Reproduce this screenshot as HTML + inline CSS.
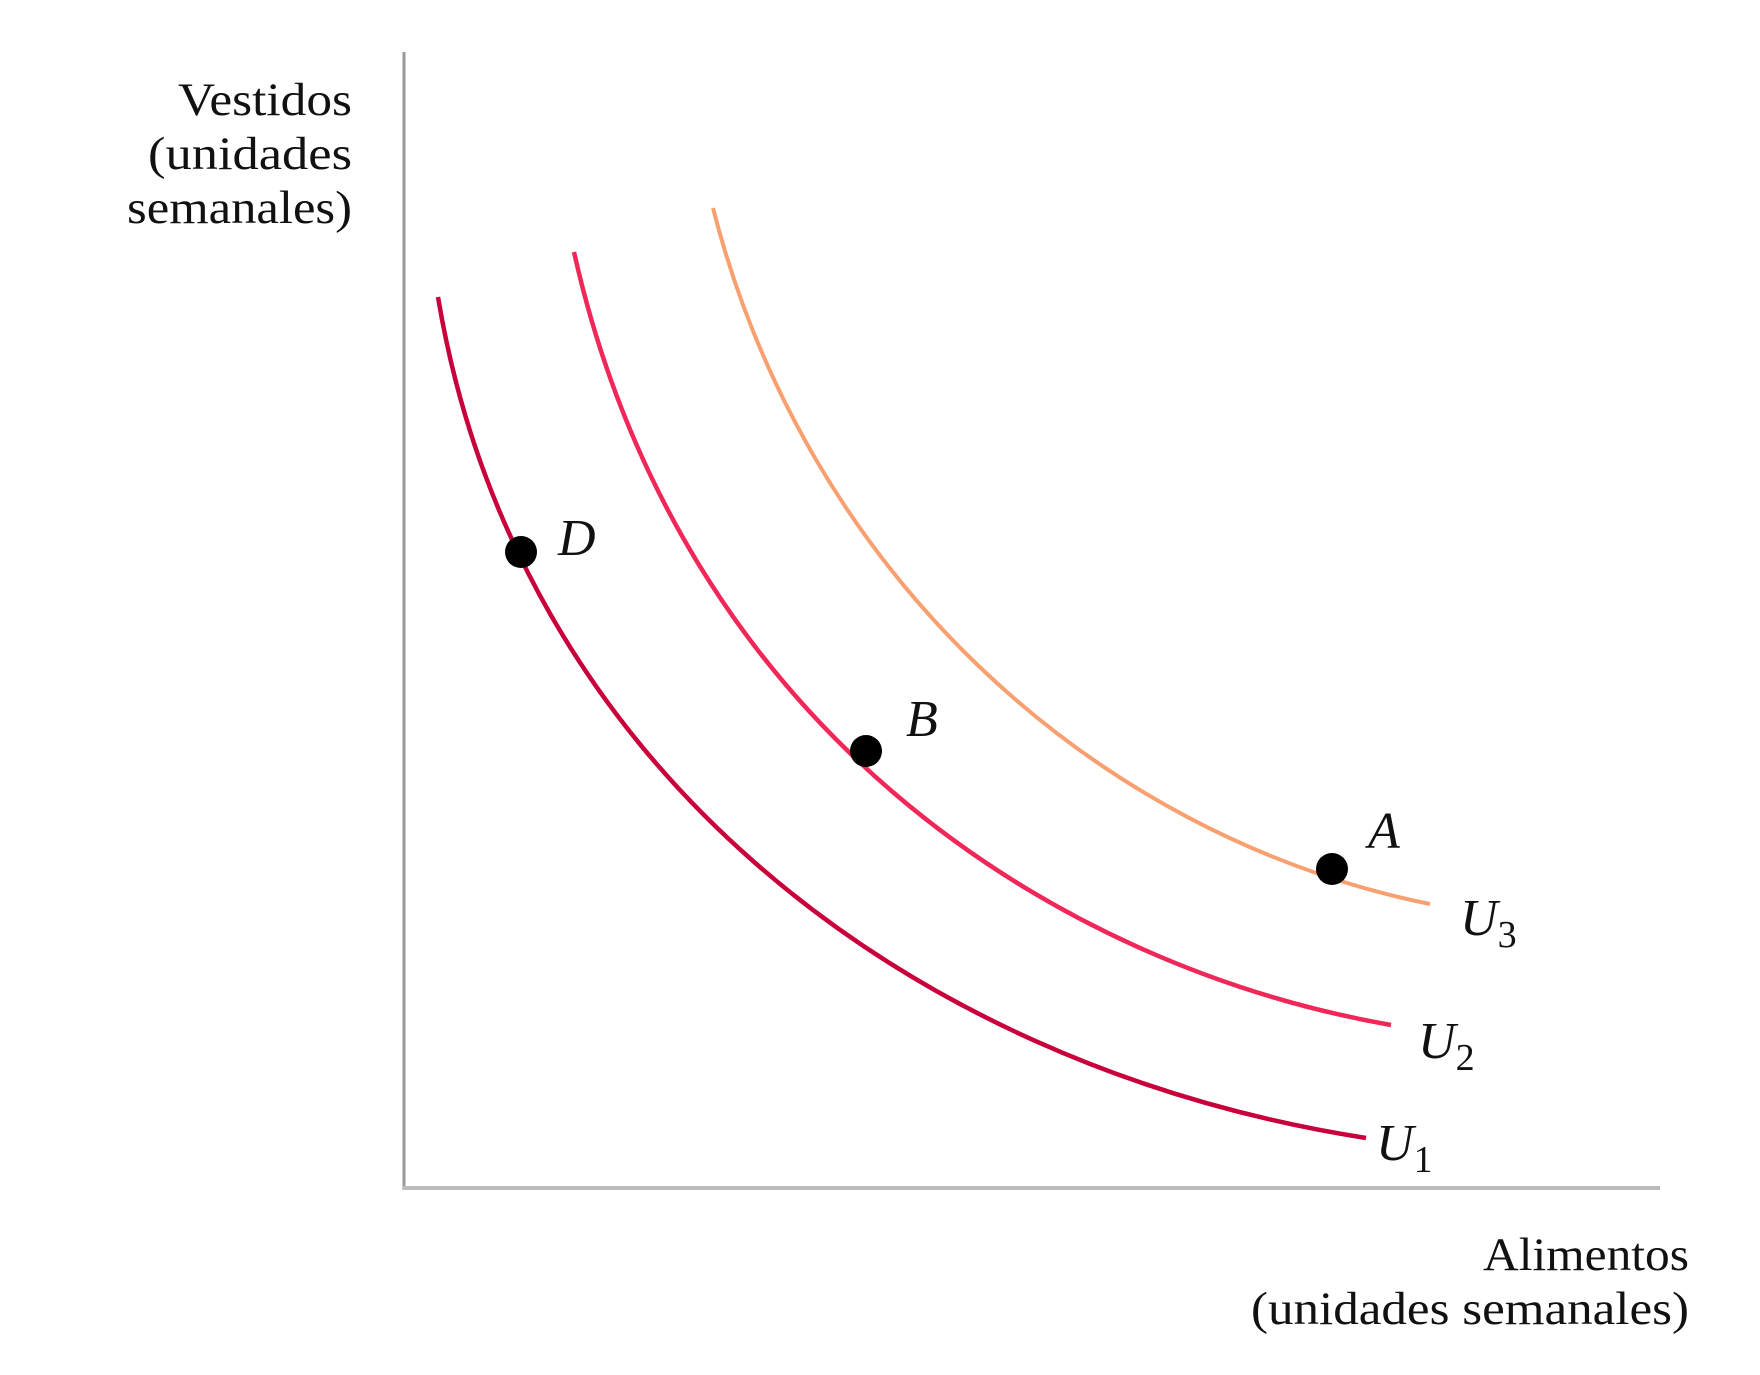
<!DOCTYPE html>
<html><head><meta charset="utf-8"><style>
html,body{margin:0;padding:0;background:#fff;}
svg{display:block;}
text{font-family:"Liberation Serif",serif;fill:#111;}
</style></head><body>
<svg width="1760" height="1375" viewBox="0 0 1760 1375" xmlns="http://www.w3.org/2000/svg">
<line x1="404" y1="52" x2="404" y2="1190" stroke="#999" stroke-width="3"/>
<line x1="403" y1="1188" x2="1660" y2="1188" stroke="#bbb" stroke-width="4"/>
<g font-size="47" text-anchor="end">
<text x="352" y="115" textLength="174" lengthAdjust="spacingAndGlyphs">Vestidos</text>
<text x="352" y="169" textLength="204" lengthAdjust="spacingAndGlyphs">(unidades</text>
<text x="352" y="223" textLength="225" lengthAdjust="spacingAndGlyphs">semanales)</text>
<text x="1689" y="1270" textLength="206" lengthAdjust="spacingAndGlyphs">Alimentos</text>
<text x="1689" y="1324" textLength="438" lengthAdjust="spacingAndGlyphs">(unidades semanales)</text>
</g>
<path d="M438,297 C515,760 900,1065 1366,1138" fill="none" stroke="#c8003c" stroke-width="4.5"/>
<path d="M574,252 C680,725 1050,965 1391,1025" fill="none" stroke="#f0285a" stroke-width="4.5"/>
<path d="M713,208 C805,570 1090,835 1430,904" fill="none" stroke="#f8a070" stroke-width="4"/>
<circle cx="521" cy="552" r="16" fill="#000"/>
<circle cx="866" cy="751" r="16" fill="#000"/>
<circle cx="1332" cy="869" r="16" fill="#000"/>
<g font-size="52" font-style="italic">
<text x="558" y="555">D</text>
<text x="906" y="736">B</text>
<text x="1368" y="848">A</text>
<text x="1460" y="935">U<tspan font-size="38" font-style="normal" dy="12">3</tspan></text>
<text x="1418" y="1058">U<tspan font-size="38" font-style="normal" dy="12">2</tspan></text>
<text x="1376" y="1160">U<tspan font-size="38" font-style="normal" dy="12">1</tspan></text>
</g>
</svg>
</body></html>
